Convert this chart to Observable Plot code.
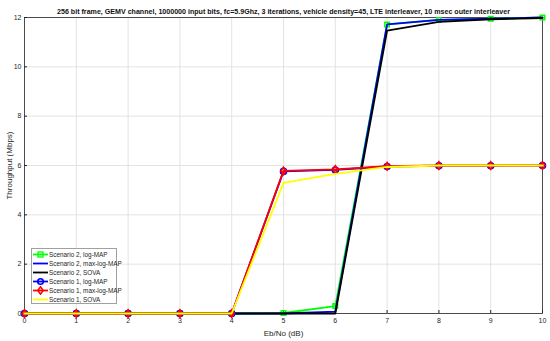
<!DOCTYPE html>
<html>
<head>
<meta charset="utf-8">
<script src="https://cdn.jsdelivr.net/npm/d3@7"></script>
<script src="https://cdn.jsdelivr.net/npm/@observablehq/plot@0.6"></script>
<style>
  html, body { margin: 0; padding: 0; background: #fff; }
  #wrap { position: relative; width: 550px; height: 341px; }
  #legend { position: absolute; left: 31px; top: 248px; width: 86px; height: 56px;
            background: #fff; border: 1px solid #a0a0a0; box-sizing: border-box;
            font-family: "Liberation Sans", Arial, sans-serif; font-size: 6.4px; color: #262626; }
  .row { position: absolute; left: 0; height: 9px; display: flex; align-items: center; }
  .row svg { display: block; margin-left: 1px; }
  .row span { margin-left: 1px; white-space: nowrap; }
</style>
</head>
<body>
<div id="wrap"></div>
<script>
const title = "256 bit frame, GEMV channel, 1000000 input bits, fc=5.9Ghz, 3 iterations, vehicle density=45, LTE interleaver, 10 msec outer interleaver";
const xLabel = "Eb/No (dB)";
const yLabel = "Throughput (Mbps)";
const xTicks = [0, 1, 2, 3, 4, 5, 6, 7, 8, 9, 10];
const yTicks = [0, 2, 4, 6, 8, 10, 12];

const ebno = [0, 1, 2, 3, 4, 5, 6, 7, 8, 9, 10];
const s2LogMap    = [0, 0, 0, 0, 0, 0.02, 0.3, 11.72, 11.9, 11.95, 12.0];
const s2MaxLogMap = [0, 0, 0, 0, 0, 0, 0.08, 11.72, 11.9, 11.95, 12.0];
const s2Sova      = [0, 0, 0, 0, 0, 0, 0, 11.47, 11.82, 11.93, 11.98];
const s1LogMap    = [0, 0, 0, 0, 0, 5.76, 5.82, 5.96, 5.99, 5.99, 6.0];
const s1MaxLogMap = [0, 0, 0, 0, 0, 5.78, 5.84, 5.97, 6.0, 6.0, 6.0];
const s1Sova      = [0, 0, 0, 0, 0, 5.3, 5.66, 5.94, 6.0, 6.0, 6.0];

const seriesNames = ["Scenario 2, log-MAP", "Scenario 2, max-log-MAP", "Scenario 2, SOVA",
                     "Scenario 1, log-MAP", "Scenario 1, max-log-MAP", "Scenario 1, SOVA"];
const seriesValues = [s2LogMap, s2MaxLogMap, s2Sova, s1LogMap, s1MaxLogMap, s1Sova];
const seriesColors = ["#00ff00", "#0000ff", "#000000", "#0000ff", "#ff0000", "#ffff00"];
const seriesSymbols = ["square", null, null, "circle", "diamond", null];
const seriesMarkerSize = [2.5, 0, 0, 3.0, 3.0, 0];

// narrow MATLAB-like diamond
const narrowDiamond = {
  draw(context, size) {
    const r = Math.sqrt(size / Math.PI);
    context.moveTo(0, -r * 1.25);
    context.lineTo(r * 0.85, 0);
    context.lineTo(0, r * 1.25);
    context.lineTo(-r * 0.85, 0);
    context.closePath();
  }
};

const marks = [
  Plot.gridX(xTicks, {stroke: "#dcdcdc", strokeOpacity: 1, strokeWidth: 0.8}),
  Plot.gridY(yTicks, {stroke: "#dcdcdc", strokeOpacity: 1, strokeWidth: 0.8}),
  Plot.frame({stroke: "#262626", strokeWidth: 0.8}),
  Plot.axisX(xTicks, {tickSize: -3, tickPadding: 8, fontSize: 7, fill: "#262626", stroke: "#262626",
    label: xLabel, labelAnchor: "center", labelArrow: "none", labelOffset: 22}),
  Plot.axisY(yTicks, {tickSize: -3, tickPadding: 6, fontSize: 7, fill: "#262626", stroke: "#262626",
    label: yLabel, labelAnchor: "center", labelArrow: "none", labelOffset: 18}),
  Plot.text([title], {frameAnchor: "top", dy: -9, fontWeight: "bold", fontSize: 7.1, fill: "#111"})
];

seriesValues.forEach((vals, i) => {
  const data = ebno.map((x, j) => ({x, y: vals[j]}));
  marks.push(Plot.line(data, {x: "x", y: "y", stroke: seriesColors[i], strokeWidth: 1.8}));
  if (seriesSymbols[i]) {
    const symbol = seriesSymbols[i] === "diamond" ? narrowDiamond : seriesSymbols[i];
    marks.push(Plot.dot(data, {x: "x", y: "y", stroke: seriesColors[i], strokeWidth: 1.6,
      symbol, r: seriesMarkerSize[i], fill: "none"}));
  }
});

const chart = Plot.plot({
  width: 550, height: 341,
  marginTop: 17, marginBottom: 28, marginLeft: 24, marginRight: 8,
  style: {fontFamily: "Liberation Sans, Arial, sans-serif", fontSize: "7px", color: "#262626", background: "#fff"},
  x: {domain: [0, 10]},
  y: {domain: [0, 12]},
  marks
});
chart.querySelectorAll("[aria-label='x-axis label'] text, [aria-label='y-axis label'] text").forEach(t => t.setAttribute("font-size", "8"));
document.getElementById("wrap").appendChild(chart);

// legend
const legend = document.createElement("div");
legend.id = "legend";
seriesNames.forEach((name, i) => {
  const row = document.createElement("div");
  row.className = "row";
  row.style.top = (1 + i * 9) + "px";
  const sym = seriesSymbols[i];
  let marker = "";
  const c = seriesColors[i];
  if (sym === "square") marker = `<rect x="5" y="2" width="5" height="5" fill="none" stroke="${c}" stroke-width="1.3"/>`;
  if (sym === "circle") marker = `<circle cx="7.5" cy="4.5" r="2.8" fill="none" stroke="${c}" stroke-width="1.6"/>`;
  if (sym === "diamond") marker = `<path d="M7.5,0.8 L10.2,4.5 L7.5,8.2 L4.8,4.5 Z" fill="none" stroke="${c}" stroke-width="1.5"/>`;
  row.innerHTML = `<svg width="15" height="9"><line x1="0" x2="15" y1="4.5" y2="4.5" stroke="${c}" stroke-width="1.8"/>${marker}</svg><span>${name}</span>`;
  legend.appendChild(row);
});
document.getElementById("wrap").appendChild(legend);
</script>
</body>
</html>
